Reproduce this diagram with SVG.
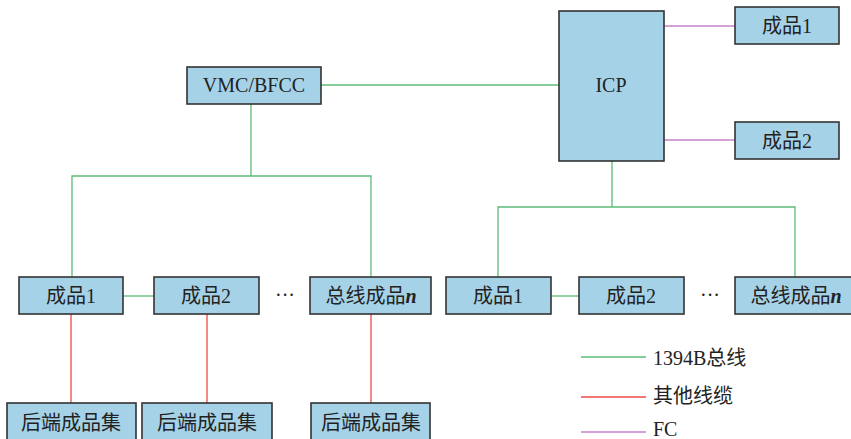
<svg xmlns="http://www.w3.org/2000/svg" width="851" height="439" viewBox="0 0 851 439">
<style>
.box{fill:#a6d2e8;stroke:#333;stroke-width:1.6}
.t{font-family:"Liberation Serif","Noto Sans CJK SC",serif;font-size:20px;fill:#222;text-anchor:middle}
.tl{font-family:"Liberation Serif","Noto Sans CJK SC",serif;font-size:20px;fill:#222}
.g{stroke:#5cbc78;stroke-width:1.3;fill:none}
.r{stroke:#ee4848;stroke-width:1.3;fill:none}
.p{stroke:#c680c8;stroke-width:1.3;fill:none}
</style>
<rect width="851" height="439" fill="#fff"/>
<g id="connectors">
<line class="g" x1="321" y1="85" x2="559" y2="85"/>
<polyline class="g" points="251,104 251,176"/>
<polyline class="g" points="72,277 72,176 371,176 371,277"/>
<polyline class="g" points="612,161 612,207"/>
<polyline class="g" points="498,277 498,207 795,207 795,277"/>
<line class="g" x1="123" y1="296" x2="154" y2="296"/>
<line class="g" x1="551" y1="296" x2="579" y2="296"/>
<line class="p" x1="664" y1="26" x2="735" y2="26"/>
<line class="p" x1="664" y1="140" x2="735" y2="140"/>
<line class="r" x1="71" y1="314" x2="71" y2="403"/>
<line class="r" x1="207" y1="314" x2="207" y2="403"/>
<line class="r" x1="371" y1="314" x2="371" y2="403"/>
</g>
<g id="vmc"><rect class="box" x="187" y="67" width="134" height="37"/><text class="t" x="254" y="92">VMC/BFCC</text></g>
<g id="icp"><rect class="box" x="559" y="11" width="105" height="150"/><text class="t" x="611" y="92">ICP</text></g>
<g id="r1"><rect class="box" x="735" y="7" width="104" height="37"/><text class="t" x="787" y="33">成品1</text></g>
<g id="r2"><rect class="box" x="735" y="122" width="104" height="37"/><text class="t" x="787" y="148">成品2</text></g>
<g id="l1"><rect class="box" x="19" y="277" width="104" height="37"/><text class="t" x="71" y="303">成品1</text></g>
<g id="l2"><rect class="box" x="154" y="277" width="105" height="37"/><text class="t" x="206" y="303">成品2</text></g>
<text class="t" x="285" y="302">···</text>
<g id="ln"><rect class="box" x="310" y="277" width="121" height="37"/><text class="t" x="371" y="303">总线成品<tspan font-style="italic" font-weight="bold">n</tspan></text></g>
<g id="m1"><rect class="box" x="446" y="277" width="105" height="37"/><text class="t" x="498" y="303">成品1</text></g>
<g id="m2"><rect class="box" x="579" y="277" width="105" height="37"/><text class="t" x="631" y="303">成品2</text></g>
<text class="t" x="710" y="302">···</text>
<g id="mn"><rect class="box" x="735" y="277" width="122" height="37"/><text class="t" x="796" y="303">总线成品<tspan font-style="italic" font-weight="bold">n</tspan></text></g>
<g id="b1"><rect class="box" x="7" y="403" width="129" height="40"/><text class="t" x="71" y="430">后端成品集</text></g>
<g id="b2"><rect class="box" x="142" y="403" width="130" height="40"/><text class="t" x="207" y="430">后端成品集</text></g>
<g id="b3"><rect class="box" x="311" y="403" width="119" height="40"/><text class="t" x="371" y="430">后端成品集</text></g>
<g id="legend">
<line class="g" x1="581" y1="357" x2="646" y2="357"/>
<text class="tl" x="653" y="365">1394B总线</text>
<line class="r" x1="581" y1="397" x2="646" y2="397"/>
<text class="tl" x="653" y="403">其他线缆</text>
<line class="p" x1="581" y1="432" x2="646" y2="432"/>
<text class="tl" x="653" y="436">FC</text>
</g>
</svg>
